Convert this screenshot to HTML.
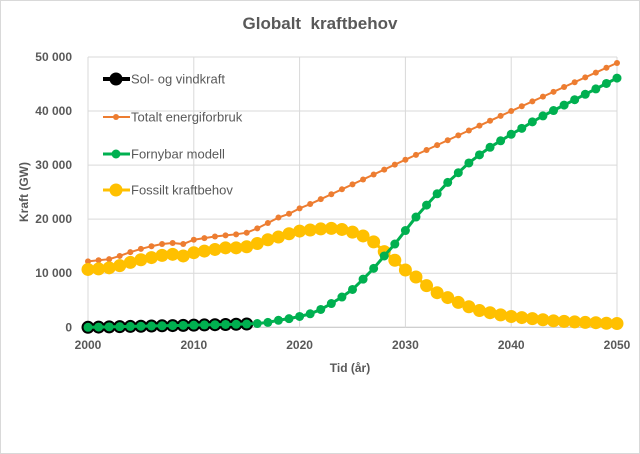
<!DOCTYPE html>
<html><head><meta charset="utf-8"><style>
html,body{margin:0;padding:0;background:#fff}
svg{display:block}
text{font-family:"Liberation Sans",sans-serif;fill:#595959}
</style></head><body>
<svg id="c" width="640" height="454" xmlns="http://www.w3.org/2000/svg">
<rect x="0.5" y="0.5" width="639" height="453" fill="#fff" stroke="#d9d9d9"/>
<text x="320" y="29" text-anchor="middle" font-size="17" font-weight="bold">Globalt&#160; kraftbehov</text>
<g id="grid" stroke="#d9d9d9" stroke-width="1"></g>
<g id="labels" font-size="12" font-weight="bold"></g>
<text x="350" y="372" text-anchor="middle" font-size="12" font-weight="bold">Tid (år)</text>
<text transform="translate(28,192) rotate(-90)" text-anchor="middle" font-size="12" font-weight="bold">Kraft (GW)</text>
<g id="series"></g>
<g id="legend" font-size="13"></g>
</svg>
<script>
var NS="http://www.w3.org/2000/svg";
function el(p,t,a,txt){var e=document.createElementNS(NS,t);for(var k in a)e.setAttribute(k,a[k]);if(txt!==undefined)e.textContent=txt;document.getElementById(p).appendChild(e);return e;}
var L=88,R=617,T=57,B=327.3;
function X(y){return L+(y-2000)*(R-L)/50;}
function Y(v){return B-v*(B-T)/50;}
for(var i=0;i<=5;i++){var x=X(2000+i*10);el("grid","line",{x1:x,x2:x,y1:T,y2:B});
 var y=Y(i*10);el("grid","line",{x1:L,x2:R,y1:y,y2:y,stroke:i==0?"#bfbfbf":"#d9d9d9"});
 el("labels","text",{x:x,y:349,"text-anchor":"middle"},String(2000+i*10));
 el("labels","text",{x:72,y:y+4,"text-anchor":"end"},i==0?"0":(i*10)+" 000");}
var tot=[12.2,12.4,12.6,13.2,13.9,14.5,15.0,15.4,15.6,15.4,16.2,16.5,16.8,17.0,17.2,17.5,18.3,19.3,20.3,21.0,22.0,22.8,23.7];
for(var y=2023;y<=2050;y++){var v;if(y<=2030)v=23.7+(31.0-23.7)*(y-2022)/8;else if(y<=2040)v=31+(y-2030)*0.9;else v=40+(y-2040)*0.89;tot.push(v);}
var fos=[10.7,10.8,11.0,11.4,12.0,12.5,12.9,13.3,13.5,13.2,13.8,14.1,14.4,14.7,14.7,14.9,15.5,16.2,16.7,17.3,17.8,18.0,18.2,18.3,18.1,17.6,16.9,15.8,14.0,12.4,10.6,9.3,7.7,6.4,5.5,4.6,3.8,3.1,2.7,2.3,2.0,1.8,1.6,1.4,1.2,1.1,1.0,0.9,0.85,0.75,0.7];
var gr=[];for(var i=0;i<=15;i++)gr.push(i*0.04);
gr=gr.concat([0.7,0.9,1.3,1.6,2.0,2.5,3.3,4.4,5.6,7.0,8.9,10.9,13.2,15.4,17.9,20.4,22.6,24.7,26.8,28.6,30.4,31.9,33.3,34.5,35.7,36.8,38.0,39.1,40.1,41.1,42.1,43.1,44.1,45.1,46.1]);
function series(d,color,w,r,start,end){var pts=[];for(var i=start;i<=end;i++)pts.push(X(2000+i)+","+Y(d[i]));
 el("series","polyline",{points:pts.join(" "),fill:"none",stroke:color,"stroke-width":w});
 for(var i=start;i<=end;i++)el("series","circle",{cx:X(2000+i),cy:Y(d[i]),r:r,fill:color});}
series(gr,"#000",4,6.5,0,15);
series(tot,"#ed7d31",2,3,0,50);
series(fos,"#ffc000",3,6.5,0,50);
series(gr,"#00b050",3,4.5,0,50);
var lg=[["Sol- og vindkraft","#000",4,6.5,79],["Totalt energiforbruk","#ed7d31",2,3,117],["Fornybar modell","#00b050",3,4.5,154],["Fossilt kraftbehov","#ffc000",3,6.5,190]];
lg.forEach(function(a){el("legend","line",{x1:103,x2:130,y1:a[4],y2:a[4],stroke:a[1],"stroke-width":a[2]});
 el("legend","circle",{cx:116,cy:a[4],r:a[3],fill:a[1]});
 el("legend","text",{x:131,y:a[4]+4.5},a[0]);});
</script>
</body></html>
